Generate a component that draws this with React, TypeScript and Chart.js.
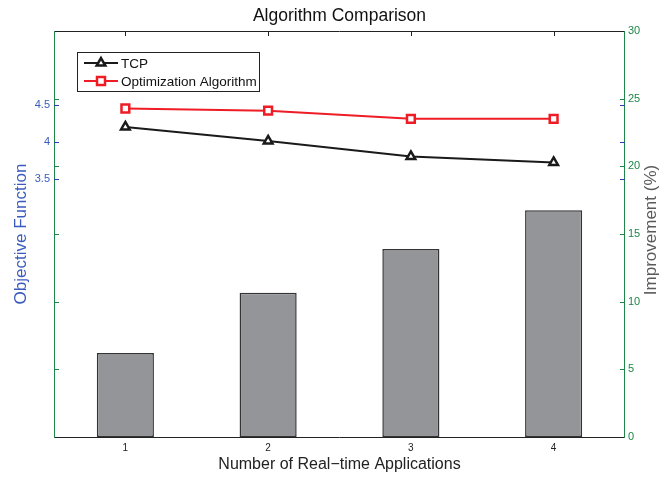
import React, { useEffect, useRef } from 'react';
import { Chart, registerables } from 'chart.js';

Chart.register(...registerables);

const categories = ['1', '2', '3', '4'];
const tcpValues = [4.2, 4.01, 3.8, 3.72];
const optValues = [4.45, 4.42, 4.31, 4.31];
const improvementValues = [6.2, 10.65, 13.9, 16.75];
const leftTickValues = [3.5, 4, 4.5];
const rightTickValues = [0, 5, 10, 15, 20, 25, 30];
const titleText = 'Algorithm Comparison';
const xTitle = 'Number of Real\u2212time Applications';
const leftTitle = 'Objective Function';
const rightTitle = 'Improvement (%)';
const legendLabels = ['TCP', 'Optimization Algorithm'];

const FONT = '"Liberation Sans", Arial, Helvetica, sans-serif';
const GREEN = '#1f8548';
const BLUE = '#3a5bbd';
const BLUE_TICK = '#2a3fa8';

function drawTriangle(ctx: CanvasRenderingContext2D, x: number, y: number, r: number) {
  ctx.beginPath();
  for (let i = 0; i < 3; i++) {
    const a = (i * 2 * Math.PI) / 3;
    const px = x + Math.sin(a) * r;
    const py = y - Math.cos(a) * r;
    if (i === 0) ctx.moveTo(px, py);
    else ctx.lineTo(px, py);
  }
  ctx.closePath();
}

const framePlugin = {
  id: 'matlabFrame',
  afterDraw(chart: any) {
    const ctx: CanvasRenderingContext2D = chart.ctx;
    const { left, right, top, bottom } = chart.chartArea;
    const yL = chart.scales.y;
    const yR = chart.scales.y2;
    const x = chart.scales.x;
    ctx.save();
    ctx.lineWidth = 1;
    // top & bottom borders
    ctx.strokeStyle = '#222';
    ctx.beginPath();
    ctx.moveTo(left, Math.round(top) + 0.5);
    ctx.lineTo(right, Math.round(top) + 0.5);
    ctx.moveTo(left, Math.round(bottom) + 0.5);
    ctx.lineTo(right, Math.round(bottom) + 0.5);
    ctx.stroke();
    // top ticks at categories
    ctx.beginPath();
    for (let i = 0; i < categories.length; i++) {
      const px = Math.round(x.getPixelForValue(i)) + 0.5;
      ctx.moveTo(px, top);
      ctx.lineTo(px, top + 5);
    }
    ctx.stroke();
    // left & right borders green
    ctx.strokeStyle = GREEN;
    ctx.beginPath();
    ctx.moveTo(Math.round(left) + 0.5, top);
    ctx.lineTo(Math.round(left) + 0.5, bottom + 1);
    ctx.moveTo(Math.round(right) - 0.5, top);
    ctx.lineTo(Math.round(right) - 0.5, bottom + 1);
    ctx.stroke();
    // green ticks (right axis values) on both sides
    ctx.beginPath();
    for (const v of rightTickValues) {
      if (v === 0 || v === 30) continue;
      const py = Math.round(yR.getPixelForValue(v)) + 0.5;
      ctx.moveTo(left, py);
      ctx.lineTo(left + 5, py);
      ctx.moveTo(right, py);
      ctx.lineTo(right - 5, py);
    }
    ctx.stroke();
    // blue ticks (left axis values) on both sides
    ctx.strokeStyle = BLUE_TICK;
    ctx.beginPath();
    for (const v of leftTickValues) {
      const py = Math.round(yL.getPixelForValue(v)) + 0.5;
      ctx.moveTo(left, py);
      ctx.lineTo(left + 5, py);
      ctx.moveTo(right, py);
      ctx.lineTo(right - 5, py);
    }
    ctx.stroke();

    // title
    ctx.fillStyle = '#111';
    ctx.font = `17.5px ${FONT}`;
    ctx.textAlign = 'center';
    ctx.textBaseline = 'middle';
    ctx.fillText(titleText, (left + right) / 2, 16);

    // right axis title (reads bottom to top)
    ctx.save();
    ctx.translate(651, (top + bottom) / 2 - 4);
    ctx.rotate(-Math.PI / 2);
    ctx.fillStyle = '#5a5a5a';
    ctx.font = `17px ${FONT}`;
    ctx.textAlign = 'center';
    ctx.textBaseline = 'middle';
    ctx.fillText(rightTitle, 0, 0);
    ctx.restore();

    // legend
    const bx = left + 23;
    const by = top + 21;
    const bw = 182;
    const bh = 39;
    ctx.fillStyle = '#fff';
    ctx.fillRect(bx, by, bw, bh);
    ctx.strokeStyle = '#222';
    ctx.lineWidth = 1;
    ctx.strokeRect(bx + 0.5, by + 0.5, bw, bh);
    const rows = [by + 11, by + 29];
    const colors = ['#1a1a1a', '#ee1c25'];
    for (let i = 0; i < 2; i++) {
      const ry = rows[i];
      ctx.strokeStyle = colors[i];
      ctx.lineWidth = 2;
      ctx.beginPath();
      ctx.moveTo(bx + 7, ry);
      ctx.lineTo(bx + 41, ry);
      ctx.stroke();
      ctx.fillStyle = '#fff';
      ctx.lineWidth = 2.5;
      if (i === 0) {
        drawTriangle(ctx, bx + 24, ry, 5);
        ctx.fill();
        ctx.stroke();
      } else {
        ctx.beginPath();
        ctx.rect(bx + 20, ry - 4, 8, 8);
        ctx.fill();
        ctx.stroke();
      }
      ctx.fillStyle = '#111';
      ctx.font = `13.5px ${FONT}`;
      ctx.textAlign = 'left';
      ctx.textBaseline = 'middle';
      ctx.fillText(legendLabels[i], bx + 44, ry + 1);
    }
    ctx.restore();
  },
};

export default function App() {
  const ref = useRef<HTMLCanvasElement>(null);
  useEffect(() => {
    const canvas = ref.current;
    if (!canvas) return;
    const chart = new Chart(canvas, {
      type: 'bar',
      data: {
        labels: categories,
        datasets: [
          {
            type: 'line',
            label: legendLabels[0],
            data: tcpValues,
            yAxisID: 'y',
            borderColor: '#1a1a1a',
            borderWidth: 2,
            pointStyle: 'triangle',
            pointRadius: 5,
            pointBorderWidth: 2.5,
            pointBackgroundColor: '#fff',
            pointBorderColor: '#1a1a1a',
            order: 0,
          } as any,
          {
            type: 'line',
            label: legendLabels[1],
            data: optValues,
            yAxisID: 'y',
            borderColor: '#ee1c25',
            borderWidth: 2,
            pointStyle: 'rect',
            pointRadius: 5.5,
            pointBorderWidth: 2.5,
            pointBackgroundColor: '#fff',
            pointBorderColor: '#ee1c25',
            order: 0,
          } as any,
          {
            type: 'bar',
            label: 'Improvement',
            data: improvementValues,
            yAxisID: 'y2',
            backgroundColor: '#939598',
            borderColor: '#333333',
            borderWidth: 1.5,
            borderSkipped: false,
            barPercentage: 0.4,
            categoryPercentage: 1,
            order: 1,
          } as any,
        ],
      },
      options: {
        responsive: false,
        animation: false,
        layout: { padding: { top: 31, left: 0, right: 0, bottom: 0 } },
        plugins: {
          legend: { display: false },
          title: { display: false },
          tooltip: { enabled: false },
        },
        scales: {
          x: {
            type: 'category',
            offset: true,
            grid: { display: false, drawTicks: false },
            border: { display: false },
            ticks: { color: '#222', font: { family: FONT, size: 10 }, padding: 5 },
            title: {
              display: true,
              text: xTitle,
              color: '#222',
              font: { family: FONT, size: 16 },
              padding: { top: 0, bottom: 3 },
            },
            afterFit(scale: any) {
              scale.height = 40;
            },
          },
          y: {
            type: 'linear',
            position: 'left',
            min: 0,
            max: 5.5,
            grid: { display: false, drawTicks: false },
            border: { display: false },
            afterBuildTicks(scale: any) {
              scale.ticks = leftTickValues.map((v) => ({ value: v }));
            },
            ticks: {
              color: BLUE,
              font: { family: FONT, size: 11 },
              padding: 4,
              callback: (v: any) => String(v),
            },
            title: {
              display: true,
              text: leftTitle,
              color: BLUE,
              font: { family: FONT, size: 17 },
              padding: { top: 11, bottom: 0 },
            },
            afterFit(scale: any) {
              scale.width = 54;
            },
          },
          y2: {
            type: 'linear',
            position: 'right',
            min: 0,
            max: 30,
            grid: { display: false, drawTicks: false },
            border: { display: false },
            afterBuildTicks(scale: any) {
              scale.ticks = rightTickValues.map((v) => ({ value: v }));
            },
            ticks: {
              color: GREEN,
              font: { family: FONT, size: 11 },
              padding: 3,
              callback: (v: any) => String(v),
            },
            title: { display: false },
            afterFit(scale: any) {
              scale.width = 44;
            },
          },
        },
      },
      plugins: [framePlugin],
    });
    return () => chart.destroy();
  }, []);
  return (
    <div style={{ position: 'fixed', left: 0, top: 0, width: 669, height: 477, background: '#fff' }}>
      <canvas ref={ref} width={669} height={477} style={{ display: 'block' }} />
    </div>
  );
}
